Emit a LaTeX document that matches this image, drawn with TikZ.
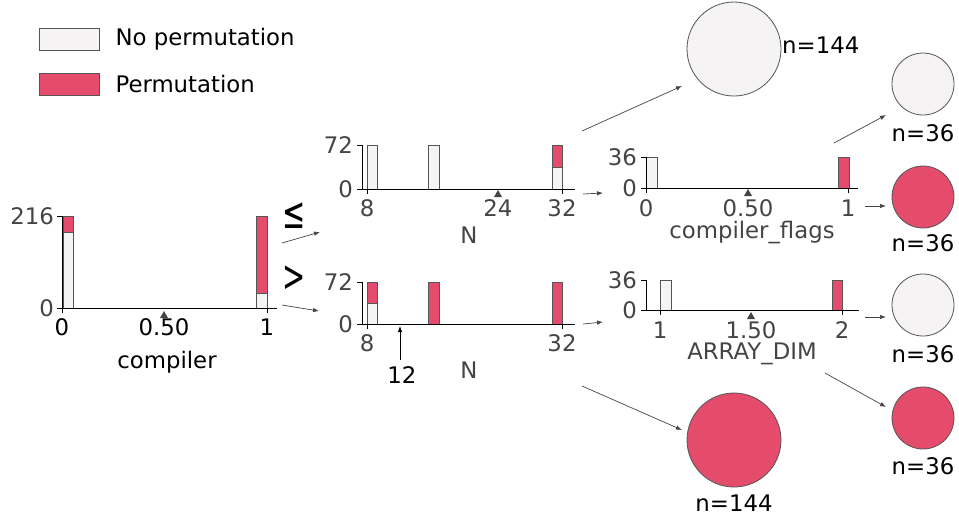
\documentclass[tikz,border=0pt]{standalone}
\usepackage{fontspec}
\setmainfont{DejaVu Sans}
\usepackage{graphicx}
\usepackage{tikz}
\usetikzlibrary{arrows.meta,positioning}

\definecolor{noperm}{HTML}{F5F3F4}
\definecolor{perm}{HTML}{E54B6B}
\definecolor{edgegray}{HTML}{555555}
\definecolor{ticktext}{HTML}{444444}

\begin{document}
\begin{tikzpicture}[
    x=1pt, y=-1pt,
    font=\fontsize{22.8}{27}\selectfont,
    nofill/.style={draw=edgegray, fill=noperm, line width=0.8pt},
    permfill/.style={draw=edgegray, fill=perm, line width=0.8pt},
    axisline/.style={draw=black, line width=0.9pt},
    ticklbl/.style={text=ticktext, inner sep=0pt},
    rootlbl/.style={text=black, inner sep=0pt},
    split/.style={fill=ticktext, draw=none},
    arr/.style={-{Latex[length=6pt, width=4.5pt]}, draw=ticktext, line width=0.7pt},
    leaf/.style={circle, draw=edgegray, line width=0.8pt, inner sep=0pt},
    cnt/.style={inner sep=0pt},
    cmp/.style={inner sep=0pt, font=\fontsize{44}{44}\selectfont}
]
\useasboundingbox (0,0) rectangle (959,515);

% ---- Legend ----
\node[nofill, minimum width=60pt, minimum height=22pt, inner sep=0pt] (legno) at (69,39) {};
\node[right=16pt of legno, inner sep=0pt] (legnotxt) {No permutation};
\node[permfill, minimum width=60pt, minimum height=22pt, inner sep=0pt] (legperm) at (69,84) {};
\node[right=16pt of legperm, inner sep=0pt] (legpermtxt) {Permutation};

% ---- Root: compiler ----
\draw[nofill] (63,232) rectangle (73,308);
\draw[permfill] (63,216) rectangle (73,232);
\draw[nofill] (256,293) rectangle (267,308);
\draw[permfill] (256,216) rectangle (267,293);
\draw[axisline] (62,216) -- (62,308) -- (277,308);
\draw[axisline] (57,216) -- (62,216) (57,308) -- (62,308);
\draw[axisline] (62,308) -- (62,313) (267,308) -- (267,313);
\fill[split] (164,311) -- (168,318) -- (160,318) -- cycle;
\node[ticklbl, anchor=east] (rooty1) at (54,216) {216};
\node[ticklbl, anchor=east] (rooty0) at (54,308) {0};
\node[rootlbl] (rootx0) at (62,327) {0};
\node[rootlbl] (rootxs) at (164,327) {0.50};
\node[rootlbl] (rootx1) at (267,327) {1};
\node[rootlbl] (rootname) at (167,362) {compiler};

% ---- Split symbols ----
\node[cmp] (le) at (294,216) {\scalebox{0.63}[1]{≤}};
\node[cmp] (gt) at (294,279) {\scalebox{0.63}[1]{>}};

% ---- Left child: N ----
\draw[nofill] (367,145) rectangle (377,189);
\draw[nofill] (428,145) rectangle (439,189);
\draw[nofill] (552,167) rectangle (562,189);
\draw[permfill] (552,145) rectangle (562,167);
\draw[axisline] (362,145) -- (362,189) -- (575,189);
\draw[axisline] (357,145) -- (362,145) (357,189) -- (362,189);
\draw[axisline] (367,189) -- (367,194) (562,189) -- (562,194);
\fill[split] (498,190) -- (502,197) -- (494,197) -- cycle;
\node[ticklbl, anchor=east] (ny1) at (353,145) {72};
\node[ticklbl, anchor=east] (ny0) at (353,189) {0};
\node[ticklbl] (nx8) at (367,208) {8};
\node[ticklbl] (nxs) at (498,208) {24};
\node[ticklbl] (nx32) at (562,208) {32};
\node[ticklbl] (nname) at (469,235) {N};

% ---- Right child: N ----
\draw[nofill] (367,303) rectangle (377,324);
\draw[permfill] (367,282) rectangle (377,303);
\draw[permfill] (428,282) rectangle (439,324);
\draw[permfill] (552,282) rectangle (562,324);
\draw[axisline] (362,282) -- (362,324) -- (575,324);
\draw[axisline] (357,282) -- (362,282) (357,324) -- (362,324);
\draw[axisline] (367,324) -- (367,329) (562,324) -- (562,329);
\node[ticklbl, anchor=east] (my1) at (353,282) {72};
\node[ticklbl, anchor=east] (my0) at (353,324) {0};
\node[ticklbl] (mx8) at (367,343) {8};
\node[ticklbl] (mx32) at (562,343) {32};
\node[ticklbl] (mname) at (469,370) {N};
\node[rootlbl] (msplit) at (402,375) {12};
\coordinate (msplitfoot) at (400,360);
\coordinate (msplittip) at (400,326);
\draw[-{Latex[length=6pt, width=4.5pt]}, line width=0.8pt] (msplitfoot) -- (msplittip);

% ---- compiler_flags ----
\draw[nofill] (646,157) rectangle (657,188);
\draw[permfill] (838,157) rectangle (849,188);
\draw[axisline] (646,157) -- (646,188) -- (858,188);
\draw[axisline] (641,157) -- (646,157) (641,188) -- (646,188);
\draw[axisline] (646,188) -- (646,193) (848,188) -- (848,193);
\fill[split] (748,189) -- (752,196) -- (744,196) -- cycle;
\node[ticklbl, anchor=east] (fy1) at (637,157) {36};
\node[ticklbl, anchor=east] (fy0) at (637,188) {0};
\node[ticklbl] (fx0) at (646,208) {0};
\node[ticklbl] (fxs) at (748,208) {0.50};
\node[ticklbl] (fx1) at (848,208) {1};
\node[ticklbl] (fname) at (752,233) {compiler\_flags};

% ---- ARRAY_DIM ----
\draw[nofill] (660,280) rectangle (671,310);
\draw[permfill] (832,280) rectangle (842,310);
\draw[axisline] (646,280) -- (646,310) -- (859,310);
\draw[axisline] (641,280) -- (646,280) (641,310) -- (646,310);
\draw[axisline] (660,310) -- (660,315) (842,310) -- (842,315);
\fill[split] (751,312) -- (755,319) -- (747,319) -- cycle;
\node[ticklbl, anchor=east] (ay1) at (637,280) {36};
\node[ticklbl, anchor=east] (ay0) at (637,310) {0};
\node[ticklbl] (ax1) at (660,330) {1};
\node[ticklbl] (axs) at (751,330) {1.50};
\node[ticklbl] (ax2) at (842,330) {2};
\node[ticklbl] (aname) at (752,354) {ARRAY\_DIM};

% ---- Leaves ----
\node[leaf, fill=noperm, minimum size=94pt] (leafnl) at (734,49) {};
\node[cnt, anchor=west] (leafnltxt) at (782,45) {n=144};
\node[leaf, fill=perm, minimum size=94pt] (leafnr) at (734,440) {};
\node[cnt, below=7pt of leafnr] (leafnrtxt) {n=144};
\node[leaf, fill=noperm, minimum size=62pt] (leaffa) at (923,84) {};
\node[cnt, below=9pt of leaffa] (leaffatxt) {n=36};
\node[leaf, fill=perm, minimum size=62pt] (leaffb) at (923,197) {};
\node[cnt, below=6pt of leaffb] (leaffbtxt) {n=36};
\node[leaf, fill=noperm, minimum size=62pt] (leafaa) at (923,305) {};
\node[cnt, below=9pt of leafaa] (leafaatxt) {n=36};
\node[leaf, fill=perm, minimum size=62pt] (leafab) at (923,418) {};
\node[cnt, below=8pt of leafab] (leafabtxt) {n=36};

% ---- Connectors ----
\coordinate (rootoutl) at (282,243);
\coordinate (nlin) at (320,232);
\coordinate (rootoutr) at (282,305);
\coordinate (nrin) at (319,311);
\draw[arr] (rootoutl) -- (nlin);
\draw[arr] (rootoutr) -- (nrin);

\coordinate (nloutl) at (582,131);
\coordinate (leafnlin) at (682,86);
\coordinate (nloutr) at (583,194);
\coordinate (fin) at (603,193);
\draw[arr] (nloutl) -- (leafnlin);
\draw[arr] (nloutr) -- (fin);

\coordinate (nroutl) at (583,324);
\coordinate (ain) at (603,322);
\coordinate (nroutr) at (582,386);
\coordinate (leafnrin) at (682,430);
\draw[arr] (nroutl) -- (ain);
\draw[arr] (nroutr) -- (leafnrin);

\coordinate (foutl) at (834,143);
\coordinate (leaffain) at (886,115);
\coordinate (foutr) at (865,206);
\coordinate (leaffbin) at (886,206);
\draw[arr] (foutl) -- (leaffain);
\draw[arr] (foutr) -- (leaffbin);

\coordinate (aoutl) at (865,317);
\coordinate (leafaain) at (886,317);
\coordinate (aoutr) at (825,373);
\coordinate (leafabin) at (886,407);
\draw[arr] (aoutl) -- (leafaain);
\draw[arr] (aoutr) -- (leafabin);

\end{tikzpicture}
\end{document}
